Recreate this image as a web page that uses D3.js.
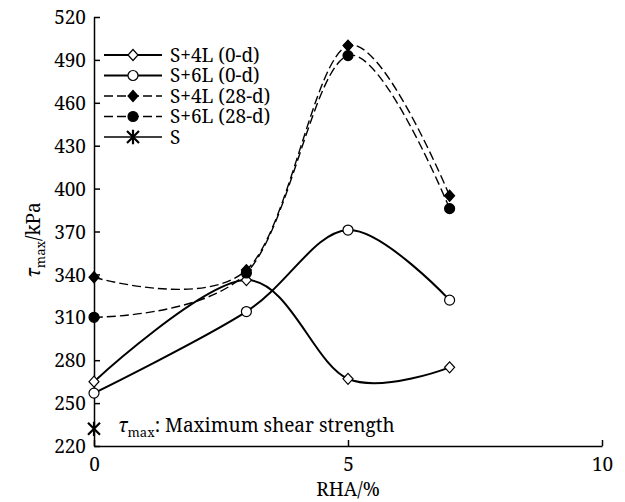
<!DOCTYPE html>
<html>
<head>
<meta charset="utf-8">
<script src="https://cdn.jsdelivr.net/npm/d3@7"></script>
<style>
  html, body { margin: 0; padding: 0; background: #fff; }
  svg text { font-family: "Noto Serif", "Liberation Serif", serif; fill: #000; }
</style>
</head>
<body>
<svg id="chart" width="625" height="502"></svg>
<script>
// RHA content (%) at which specimens were tested
const rha = [0, 3, 5, 7];

// Maximum shear strength (kPa) per mix and curing age
const s4l0 = [265, 336, 267, 275];
const s6l0 = [257, 314, 371, 322];
const s4l28 = [338, 343, 500, 395];
const s6l28 = [310, 341, 493, 386];
// Untreated soil, RHA = 0 only
const sOnly = [232];

const seriesNames = ["S+4L (0-d)", "S+6L (0-d)", "S+4L (28-d)", "S+6L (28-d)", "S"];
const xTicks = [0, 5, 10];
const yTicks = [220, 250, 280, 310, 340, 370, 400, 430, 460, 490, 520];

const series = [
  { name: seriesNames[0], values: s4l0, marker: "diamond", fill: "#fff", dash: null, width: 2 },
  { name: seriesNames[1], values: s6l0, marker: "circle", fill: "#fff", dash: null, width: 2 },
  { name: seriesNames[2], values: s4l28, marker: "diamond", fill: "#000", dash: "9,4", width: 1.4 },
  { name: seriesNames[3], values: s6l28, marker: "circle", fill: "#000", dash: "9,4", width: 1.4 },
  { name: seriesNames[4], values: sOnly, marker: "star", fill: "#000", dash: null, width: 1.4 }
];

const fontSize = 19;
const svg = d3.select("#chart");
const plotLeft = 94, plotRight = 602, plotTop = 17, plotBottom = 446;

const x = d3.scaleLinear().domain([0, 10]).range([plotLeft, plotRight]);
const y = d3.scaleLinear().domain([220, 520]).range([plotBottom, plotTop]);

// Axes: ticks point into the plot area
const yAxis = svg.append("g")
  .attr("transform", `translate(${plotLeft},0)`)
  .call(d3.axisLeft(y).tickValues(yTicks).tickSizeInner(-6).tickSizeOuter(0).tickPadding(8));
const xAxis = svg.append("g")
  .attr("transform", `translate(0,${plotBottom})`)
  .call(d3.axisBottom(x).tickValues(xTicks).tickSizeInner(-6).tickSizeOuter(0).tickPadding(12));

[yAxis, xAxis].forEach(a => {
  a.attr("font-family", null);
  a.selectAll("path, line").attr("stroke", "#000").attr("stroke-width", 1.5);
  a.selectAll("text").attr("font-size", fontSize);
});
xAxis.selectAll("text").attr("dy", "0.71em");
yAxis.selectAll("text").attr("dy", "0.35em");

// Axis titles
svg.append("text")
  .attr("x", x(5)).attr("y", 496)
  .attr("text-anchor", "middle").attr("font-size", fontSize)
  .text("RHA/%");

const yTitle = svg.append("text")
  .attr("transform", `translate(40,240) rotate(-90)`)
  .attr("text-anchor", "middle").attr("font-size", fontSize);
yTitle.append("tspan").attr("font-style", "italic").text("τ");
yTitle.append("tspan").attr("font-size", 13).attr("dy", 5).text("max");
yTitle.append("tspan").attr("dy", -5).text("/kPa");

// Smoothed curves through the measured points
const line = d3.line()
  .x((d, i) => x(rha[i]))
  .y(d => y(d))
  .curve(d3.curveCardinal.tension(0));

function drawMarker(g, type, fill, cx, cy) {
  if (type === "diamond") {
    g.append("path")
      .attr("d", `M${cx},${cy - 5.5}L${cx + 5},${cy}L${cx},${cy + 5.5}L${cx - 5},${cy}Z`)
      .attr("fill", fill).attr("stroke", "#000").attr("stroke-width", 1.2);
  } else if (type === "circle") {
    g.append("circle")
      .attr("cx", cx).attr("cy", cy).attr("r", 5)
      .attr("fill", fill).attr("stroke", "#000").attr("stroke-width", 1.2);
  } else {
    const r = 6;
    g.append("path")
      .attr("d", `M${cx - r},${cy - r}L${cx + r},${cy + r}M${cx - r},${cy + r}L${cx + r},${cy - r}M${cx},${cy - r * 1.2}L${cx},${cy + r * 1.2}`)
      .attr("fill", "none").attr("stroke", "#000").attr("stroke-width", 2.2);
  }
}

const plot = svg.append("g");
series.forEach(s => {
  if (s.values.length > 1) {
    plot.append("path")
      .attr("d", line(s.values))
      .attr("fill", "none").attr("stroke", "#000")
      .attr("stroke-width", s.width)
      .attr("stroke-dasharray", s.dash);
  }
});
series.forEach(s => {
  s.values.forEach((v, i) => drawMarker(plot, s.marker, s.fill, x(rha[i]), y(v)));
});

// Legend
const legend = svg.append("g");
const legendY = [55, 75.5, 96, 116.5, 137];
series.forEach((s, i) => {
  const ly = legendY[i];
  legend.append("line")
    .attr("x1", 104).attr("x2", 162).attr("y1", ly).attr("y2", ly)
    .attr("stroke", "#000").attr("stroke-width", s.width)
    .attr("stroke-dasharray", s.dash);
  drawMarker(legend, s.marker, s.fill, 133, ly);
  legend.append("text")
    .attr("x", 170).attr("y", ly + 6.5).attr("font-size", fontSize)
    .text(s.name);
});

// Note on the symbol
const note = svg.append("text").attr("x", 118).attr("y", 432).attr("font-size", fontSize);
note.append("tspan").attr("font-style", "italic").text("τ");
note.append("tspan").attr("font-size", 13).attr("dy", 5).text("max");
note.append("tspan").attr("dy", -5).text(": Maximum shear strength");
</script>
</body>
</html>
